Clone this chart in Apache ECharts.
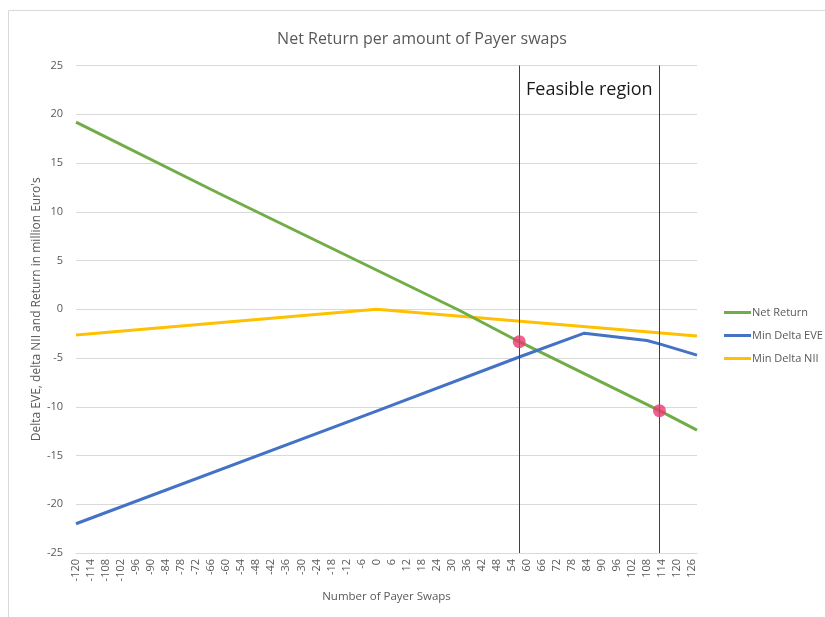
<!DOCTYPE html>
<html>
<head>
<meta charset="utf-8">
<script src="https://cdn.jsdelivr.net/npm/echarts@6/dist/echarts.min.js"></script>
<style>
  html, body { margin: 0; padding: 0; background: #fff; }
  #chart { width: 825px; height: 617px; }
</style>
</head>
<body>
<div id="chart"></div>
<script>
// Number of payer swaps vs. results (million Euro)
const netReturn = [[-120, 19.2], [-63, 11.9], [-7, 4.9], [33, -0.1], [57, -3.33], [113, -10.4], [128, -12.4]];
const minDeltaEVE = [[-120, -22.0], [0, -10.45], [57, -4.9], [83, -2.45], [108, -3.2], [113, -3.55], [128, -4.7]];
const minDeltaNII = [[-120, -2.65], [0, 0], [128, -2.75]];
// boundary points of the feasible region on the net return line
const feasiblePoints = [[57, -3.33], [113, -10.4]];
const feasibleBounds = [57, 113];

const xTickLabels = [-120, -114, -108, -102, -96, -90, -84, -78, -72, -66, -60, -54, -48, -42, -36, -30, -24, -18, -12, -6,
  0, 6, 12, 18, 24, 30, 36, 42, 48, 54, 60, 66, 72, 78, 84, 90, 96, 102, 108, 114, 120, 126];
const yTickLabels = [-25, -20, -15, -10, -5, 0, 5, 10, 15, 20, 25];

const FONT = '"Open Sans", "Noto Sans", sans-serif';
const GREY = '#595959';

const chart = echarts.init(document.getElementById('chart'));
chart.setOption({
  animation: false,
  backgroundColor: '#fff',
  textStyle: { fontFamily: FONT },
  title: {
    text: 'Net Return per amount of Payer swaps',
    left: 417, top: 26, textAlign: 'center',
    textStyle: { fontFamily: FONT, fontSize: 16, fontWeight: 'normal', color: GREY }
  },
  legend: {
    orient: 'vertical', left: 719, top: 302, itemGap: 12,
    icon: 'rect', itemWidth: 27, itemHeight: 3,
    textStyle: { fontFamily: FONT, fontSize: 11, color: GREY, padding: [0, 0, 0, -4] },
    data: ['Net Return', 'Min Delta EVE', 'Min Delta NII']
  },
  grid: { left: 76, right: 128, top: 65.5, bottom: 64 },
  xAxis: {
    type: 'value', min: -120, max: 128, interval: 6,
    name: 'Number of Payer Swaps', nameLocation: 'middle', nameGap: 38,
    nameTextStyle: { fontFamily: FONT, fontSize: 11.5, color: GREY },
    axisLine: { show: true, onZero: false, lineStyle: { color: '#d9d9d9' } },
    axisTick: { show: false },
    splitLine: { show: false },
    axisLabel: {
      rotate: 90, margin: 6, fontSize: 11, color: GREY, fontFamily: FONT,
      showMaxLabel: false,
      formatter: v => xTickLabels.includes(v) ? String(v) : ''
    }
  },
  yAxis: {
    type: 'value', min: -25, max: 25, interval: 5,
    name: "Delta EVE, delta NII and Return in million Euro's", nameLocation: 'middle', nameGap: 33, nameRotate: 90,
    nameMoveOverlap: false,
    nameTextStyle: { fontFamily: FONT, fontSize: 12, color: GREY },
    axisLine: { show: false }, axisTick: { show: false },
    splitLine: { lineStyle: { color: '#d9d9d9', width: 1 } },
    axisLabel: {
      margin: 13, fontSize: 11, color: GREY, fontFamily: FONT,
      formatter: v => yTickLabels.includes(v) ? String(v) : ''
    }
  },
  series: [
    {
      name: 'Net Return', type: 'line', data: netReturn, showSymbol: false,
      lineStyle: { color: '#70AD47', width: 3 }, itemStyle: { color: '#70AD47' }, z: 3
    },
    {
      name: 'Min Delta EVE', type: 'line', data: minDeltaEVE, showSymbol: false,
      lineStyle: { color: '#4472C4', width: 3 }, itemStyle: { color: '#4472C4' }, z: 3
    },
    {
      name: 'Min Delta NII', type: 'line', data: minDeltaNII, showSymbol: false,
      lineStyle: { color: '#FFC000', width: 3 }, itemStyle: { color: '#FFC000' }, z: 2,
      markLine: {
        silent: true, symbol: 'none',
        lineStyle: { color: '#404040', width: 1, type: 'solid' },
        label: { show: false },
        data: feasibleBounds.map(x => ({ xAxis: x }))
      }
    },
    {
      name: 'bounds', type: 'scatter', data: feasiblePoints, symbolSize: 13,
      itemStyle: { color: '#E8396F' }, z: 5
    }
  ]
});

// chart frame and the caption between the two bounds
chart.setOption({
  graphic: [
    { type: 'rect', shape: { x: 8.5, y: 10.5, width: 840, height: 640 }, style: { fill: 'none', stroke: '#d9d9d9', lineWidth: 1 }, z: -1 },
    {
      type: 'text',
      x: chart.convertToPixel({ gridIndex: 0 }, [(feasibleBounds[0] + feasibleBounds[1]) / 2, 0])[0],
      y: 90,
      style: { text: 'Feasible region', fontFamily: FONT, fontSize: 18, fill: '#1a1a1a', align: 'center', verticalAlign: 'middle' },
      z: 10
    }
  ]
});
</script>
</body>
</html>
